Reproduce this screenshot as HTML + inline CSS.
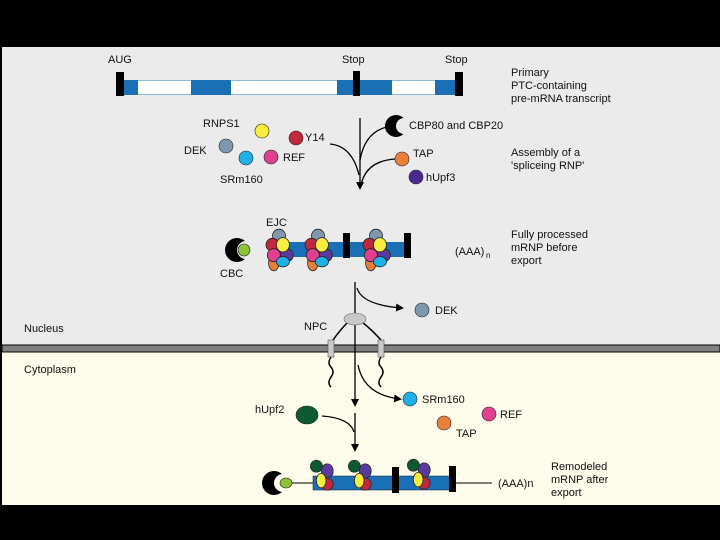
<!DOCTYPE html>
<html><head><style>
body{margin:0;background:#000;}
svg{display:block;}
text{font-family:"Liberation Sans",sans-serif;font-size:11px;fill:#111;}
</style></head><body>
<svg width="720" height="540" viewBox="0 0 720 540">
<defs>
<marker id="ah" markerWidth="8" markerHeight="8" refX="6" refY="4" orient="auto" markerUnits="userSpaceOnUse"><path d="M0,0 L8,4 L0,8z" fill="#000"/></marker>
<g id="ejc">
<ellipse cx="0" cy="-11" rx="5" ry="5" fill="#7f98b0" stroke="#222" stroke-width=".6"/>
<ellipse cx="-5" cy="-4" rx="5" ry="5" fill="#c0283e" stroke="#222" stroke-width=".6"/>
<ellipse cx="-4" cy="10" rx="4" ry="6" fill="#e8803a" stroke="#222" stroke-width=".6"/>
<ellipse cx="-4" cy="4" rx="5" ry="5" fill="#e0408e" stroke="#222" stroke-width=".6"/>
<ellipse cx="6" cy="4" rx="5" ry="5" fill="#5a3a9a" stroke="#222" stroke-width=".6"/>
<ellipse cx="3" cy="9" rx="5" ry="4" fill="#20b0e8" stroke="#222" stroke-width=".6"/>
<ellipse cx="3" cy="-4" rx="5" ry="5.5" fill="#f8ee40" stroke="#222" stroke-width=".6"/>
</g>
<g id="ejc2">
<ellipse cx="-3" cy="-9" rx="5" ry="5" fill="#0e5a30" stroke="#222" stroke-width=".6"/>
<ellipse cx="6" cy="-5" rx="5" ry="6" fill="#5a3a9a" stroke="#222" stroke-width=".6"/>
<ellipse cx="6" cy="6" rx="5" ry="5" fill="#c0283e" stroke="#222" stroke-width=".6"/>
<ellipse cx="1" cy="3" rx="4" ry="6" fill="#f8ee40" stroke="#222" stroke-width=".6"/>
</g>
</defs>
<rect x="2" y="47" width="718" height="300" fill="#ebebeb"/>
<rect x="2" y="350" width="718" height="155" fill="#fdfbea"/>
<rect x="2" y="345" width="718" height="7" fill="#808080" stroke="#000" stroke-width="1"/>
<rect x="0" y="0" width="720" height="47" fill="#000"/>
<rect x="0" y="505" width="720" height="35" fill="#000"/>

<!-- top transcript -->
<rect x="124" y="80" width="331" height="15" fill="#1a6fb5"/>
<rect x="138" y="80.5" width="53" height="14" fill="#fff"/>
<rect x="231" y="80.5" width="106" height="14" fill="#fff"/>
<rect x="392" y="80.5" width="43" height="14" fill="#fff"/>
<rect x="116" y="72" width="8" height="24" fill="#000"/>
<rect x="353" y="71" width="7" height="25" fill="#000"/>
<rect x="455" y="72" width="8" height="24" fill="#000"/>
<text x="108" y="63">AUG</text><text x="342" y="63">Stop</text><text x="445" y="63">Stop</text>
<text x="511" y="76">Primary</text><text x="511" y="89">PTC-containing</text><text x="511" y="102">pre-mRNA transcript</text>

<!-- assembly -->
<circle cx="262" cy="131" r="7" fill="#f8ee40" stroke="#222" stroke-width=".6"/>
<circle cx="296" cy="138" r="7" fill="#c0283e" stroke="#222" stroke-width=".6"/>
<circle cx="226" cy="146" r="7" fill="#7f98b0" stroke="#222" stroke-width=".6"/>
<circle cx="246" cy="158" r="7" fill="#20b0e8" stroke="#222" stroke-width=".6"/>
<circle cx="271" cy="157" r="7" fill="#e0408e" stroke="#222" stroke-width=".6"/>
<circle cx="402" cy="159" r="7" fill="#e8803a" stroke="#222" stroke-width=".6"/>
<circle cx="416" cy="177" r="7" fill="#4a2a90" stroke="#222" stroke-width=".6"/>
<circle cx="396" cy="126" r="11" fill="#000"/>
<circle cx="404" cy="126" r="8" fill="#ebebeb"/>
<text x="203" y="127">RNPS1</text><text x="305" y="141">Y14</text><text x="184" y="154">DEK</text>
<text x="220" y="183">SRm160</text><text x="283" y="161">REF</text>
<text x="409" y="129">CBP80 and CBP20</text><text x="413" y="157">TAP</text><text x="426" y="181">hUpf3</text>
<text x="511" y="156">Assembly of a</text><text x="511" y="169">'spliceing RNP'</text>
<path d="M360,118 L360,188" stroke="#000" stroke-width="1.3" fill="none" marker-end="url(#ah)"/>
<path d="M330,144 Q352,146 359,175" stroke="#000" stroke-width="1.3" fill="none"/>
<path d="M387,127 Q365,132 360,160" stroke="#000" stroke-width="1.3" fill="none"/>
<path d="M395,159 Q366,161 361,185" stroke="#000" stroke-width="1.3" fill="none"/>

<!-- processed mRNA -->
<rect x="275" y="242" width="132" height="15" fill="#1a6fb5"/>
<rect x="343" y="233" width="7" height="25" fill="#000"/>
<rect x="404" y="233" width="7" height="25" fill="#000"/>
<use href="#ejc" transform="translate(279,250) scale(1.3)"/><use href="#ejc" transform="translate(318,250) scale(1.3)"/><use href="#ejc" transform="translate(376,250) scale(1.3)"/>
<circle cx="237" cy="250" r="12" fill="#000"/>
<circle cx="246" cy="250" r="9" fill="#ebebeb"/>
<circle cx="244" cy="250" r="6" fill="#8cc43a" stroke="#222" stroke-width=".6"/>
<text x="266" y="226">EJC</text><text x="220" y="277">CBC</text><text x="455" y="255">(AAA)</text><text x="486" y="258" style="font-size:8px">n</text>
<text x="511" y="238">Fully processed</text><text x="511" y="251">mRNP before</text><text x="511" y="264">export</text>

<!-- export -->
<path d="M355,282 L355,405" stroke="#000" stroke-width="1.3" fill="none" marker-end="url(#ah)"/>
<path d="M357,288 Q362,305 402,308" stroke="#000" stroke-width="1.3" fill="none" marker-end="url(#ah)"/>
<circle cx="422" cy="310" r="7" fill="#7f98b0" stroke="#222" stroke-width=".6"/>
<text x="435" y="314">DEK</text>
<path d="M348,322 Q340,330 333,340" stroke="#000" stroke-width="1.5" fill="none"/>
<path d="M362,322 Q372,330 381,340" stroke="#000" stroke-width="1.5" fill="none"/>
<ellipse cx="355" cy="319" rx="11" ry="6" fill="#c8c8c8" stroke="#666" stroke-width=".6"/>
<text x="304" y="330">NPC</text>
<rect x="328" y="340" width="6" height="17" fill="#c8c8c8" stroke="#555" stroke-width=".6"/>
<rect x="378" y="340" width="6" height="17" fill="#c8c8c8" stroke="#555" stroke-width=".6"/>
<path d="M331,357 q-4,6 0,10 q4,5 0,10 q-4,6 0,10" stroke="#000" stroke-width="1.5" fill="none"/>
<path d="M381,357 q-4,6 0,10 q4,5 0,10 q-4,6 0,10" stroke="#000" stroke-width="1.5" fill="none"/>
<path d="M358,365 Q364,395 400,399" stroke="#000" stroke-width="1.3" fill="none" marker-end="url(#ah)"/>
<circle cx="410" cy="399" r="7" fill="#20b0e8" stroke="#222" stroke-width=".6"/>
<circle cx="489" cy="414" r="7" fill="#e0408e" stroke="#222" stroke-width=".6"/>
<circle cx="444" cy="423" r="7" fill="#e8803a" stroke="#222" stroke-width=".6"/>
<ellipse cx="307" cy="415" rx="11" ry="9" fill="#0e5a30" stroke="#222" stroke-width=".6"/>
<text x="422" y="403">SRm160</text><text x="500" y="418">REF</text><text x="456" y="437">TAP</text><text x="255" y="413">hUpf2</text>
<text x="24" y="332">Nucleus</text><text x="24" y="373">Cytoplasm</text>
<path d="M355,413 L355,450" stroke="#000" stroke-width="1.3" fill="none" marker-end="url(#ah)"/>
<path d="M322,416 Q350,418 354,432" stroke="#000" stroke-width="1.3" fill="none"/>

<!-- remodeled -->
<line x1="291" y1="483" x2="492" y2="483" stroke="#000" stroke-width="1"/>
<rect x="313" y="476" width="142" height="14" fill="#1a6fb5" stroke="#123" stroke-width=".5"/>
<rect x="392" y="467" width="7" height="26" fill="#000"/>
<rect x="449" y="466" width="7" height="26" fill="#000"/>
<use href="#ejc2" transform="translate(320,477) scale(1.2)"/><use href="#ejc2" transform="translate(358,477) scale(1.2)"/><use href="#ejc2" transform="translate(417,476) scale(1.2)"/>
<circle cx="274" cy="483" r="12" fill="#000"/>
<circle cx="283" cy="483" r="9" fill="#fdfbea"/>
<ellipse cx="286" cy="483" rx="6" ry="5" fill="#8cc43a" stroke="#222" stroke-width=".6"/>
<text x="498" y="487">(AAA)n</text>
<text x="551" y="470">Remodeled</text><text x="551" y="483">mRNP after</text><text x="551" y="496">export</text>
</svg>
</body></html>
